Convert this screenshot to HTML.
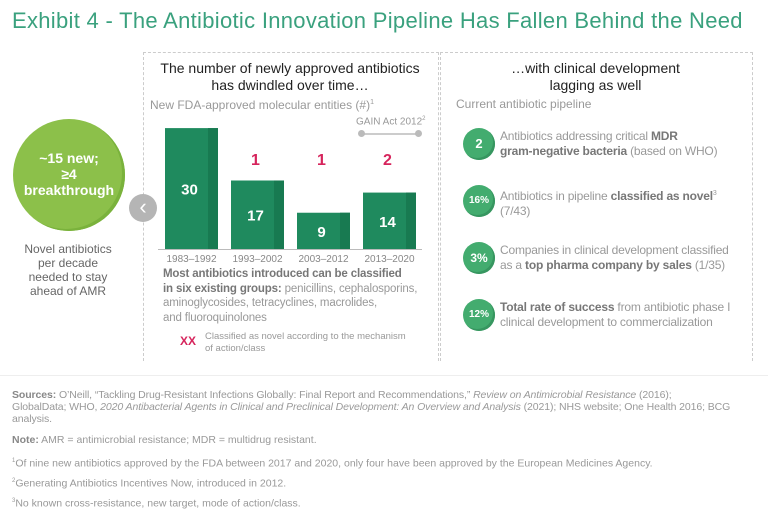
<!DOCTYPE html>
<html><head><meta charset="utf-8"><style>
body{margin:0;width:768px;height:518px;background:#fff;font-family:"Liberation Sans",sans-serif;position:relative;overflow:hidden}
.a{position:absolute}
.c{position:absolute;border-radius:50%;background:#43ac6f;color:#fff;font-weight:bold;text-align:center;box-shadow:-2px -2px 0 #379660 inset}
.item{position:absolute;left:500px;font-size:12px;color:#999;line-height:15px;width:236px;letter-spacing:-0.2px}
.item b{color:#777}
.fn{position:absolute;left:12px;font-size:10.5px;color:#999;line-height:12px;width:750px;white-space:nowrap}
.fn b{color:#888}
</style></head><body>
<div class="a" style="left:12px;top:8px;font-size:22px;color:#3aa17e;white-space:nowrap;letter-spacing:0.3px">Exhibit 4 - The Antibiotic Innovation Pipeline Has Fallen Behind the Need</div>
<div class="a" style="left:143px;top:52px;width:294px;height:308px;border:1px dashed #ccc;border-bottom:none"></div>
<div class="a" style="left:440px;top:52px;width:311px;height:308px;border:1px dashed #ccc;border-bottom:none"></div>
<div class="a" style="left:143px;width:294px;top:60px;text-align:center;font-size:14px;color:#222;line-height:17px">The number of newly approved antibiotics<br>has dwindled over time…</div>
<div class="a" style="left:150px;top:98px;font-size:12px;color:#999">New FDA-approved molecular entities (#)<sup style="font-size:7px">1</sup></div>
<div class="a" style="left:356px;top:116px;font-size:10px;color:#999">GAIN Act 2012<sup style="font-size:6px">2</sup></div>
<div class="a" style="left:361px;top:133px;width:58px;height:2px;background:#ccc"></div>
<div class="a" style="left:358px;top:130px;width:7px;height:7px;border-radius:50%;background:#bbb"></div>
<div class="a" style="left:415px;top:130px;width:7px;height:7px;border-radius:50%;background:#bbb"></div>
<svg class="a" style="left:0;top:0" width="768" height="518" id="chart"></svg>
<script>
const categories=["1983–1992","1993–2002","2003–2012","2013–2020"];
const approvals=[30,17,9,14];
const novel=[null,1,1,2];
const svg=document.getElementById('chart');
const NS='http://www.w3.org/2000/svg';
const baseY=249,scale=4.03,x0=165,step=66,bw=53;
const xS=i=>x0+i*step, yS=v=>baseY-v*scale;
function mk(t,a){const e=document.createElementNS(NS,t);for(const k in a)e.setAttribute(k,a[k]);svg.appendChild(e);return e;}
categories.forEach((c,i)=>{
 const r=mk('rect',{x:xS(i),y:yS(approvals[i]),width:bw,height:approvals[i]*scale,fill:'#1f8a5e'});
 
 
 const s=mk('rect',{x:xS(i)+bw-10,y:yS(approvals[i]),width:10,height:approvals[i]*scale,fill:'#187a51'});
 
 
 const v=mk('text',{x:xS(i)+bw/2-2,y:(yS(approvals[i])+baseY)/2+6,'text-anchor':'middle','font-size':'15','font-weight':'bold',fill:'#fff','font-family':'Liberation Sans'});
 v.textContent=approvals[i];
 
 
 const l=mk('text',{x:xS(i)+bw/2,y:262,'text-anchor':'middle','font-size':'10',fill:'#888','font-family':'Liberation Sans'});
 l.textContent=c;
 
 
 if(novel[i]!=null){
  const n=mk('text',{x:xS(i)+bw/2-2,y:165,'text-anchor':'middle','font-size':'16','font-weight':'bold',fill:'#d6245c','font-family':'Liberation Sans'});
  n.textContent=novel[i];
  
  
 }
});
const ax=mk('line',{x1:158,x2:422,y1:baseY+0.5,y2:baseY+0.5,stroke:'#bbb'});


</script>
<div class="a" style="left:163px;top:267px;font-size:11.5px;color:#999;line-height:14.5px;white-space:nowrap;letter-spacing:-0.15px"><b style="color:#777">Most antibiotics introduced can be classified<br>in six existing groups:</b> penicillins, cephalosporins,<br>aminoglycosides, tetracyclines, macrolides,<br>and fluoroquinolones</div>
<div class="a" style="left:180px;top:334px;font-size:12px;font-weight:bold;color:#d6245c">XX</div>
<div class="a" style="left:205px;top:331px;font-size:9.5px;color:#999;line-height:12px">Classified as novel according to the mechanism<br>of action/class</div>
<div class="a" style="left:13px;top:119px;width:112px;height:112px;border-radius:50%;background:#8cc04a;box-shadow:-3px -2px 0 #7ab23c inset"></div>
<div class="a" style="left:13px;top:150px;width:112px;text-align:center;color:#fff;font-weight:bold;font-size:14px;line-height:16px">~15 new;<br>≥4<br>breakthrough</div>
<div class="a" style="left:18px;top:242px;width:100px;text-align:center;color:#666;font-size:12px;line-height:14px">Novel antibiotics per decade needed to stay ahead of AMR</div>
<div class="a" style="left:129px;top:194px;width:28px;height:28px;border-radius:50%;background:#b5b5b5;color:#fff;font-size:22px;line-height:26px;text-align:center">‹</div>
<div class="a" style="left:440px;width:311px;top:60px;text-align:center;font-size:14px;color:#222;line-height:17px">…with clinical development<br>lagging as well</div>
<div class="a" style="left:456px;top:97px;font-size:12px;color:#999">Current antibiotic pipeline</div>
<div class="c" style="left:463px;top:128px;width:32px;height:32px;line-height:32px;font-size:13px">2</div>
<div class="item" style="top:129px">Antibiotics addressing critical <b>MDR</b><br><b>gram-negative bacteria</b> (based on WHO)</div>
<div class="c" style="left:463px;top:185px;width:32px;height:32px;line-height:32px;font-size:10px">16%</div>
<div class="item" style="top:186px">Antibiotics in pipeline <b>classified as novel</b><sup style="font-size:7px">3</sup><br>(7/43)</div>
<div class="c" style="left:463px;top:242px;width:32px;height:32px;line-height:32px;font-size:12px">3%</div>
<div class="item" style="top:243px">Companies in clinical development classified as a <b>top pharma company by sales</b> (1/35)</div>
<div class="c" style="left:463px;top:299px;width:32px;height:32px;line-height:32px;font-size:10px">12%</div>
<div class="item" style="top:300px"><b>Total rate of success</b> from antibiotic phase I clinical development to commercialization</div>
<div class="a" style="left:0;top:375px;width:768px;height:1px;background:#eee"></div>
<div class="fn" style="top:389px;letter-spacing:-0.1px"><b>Sources:</b> O’Neill, “Tackling Drug-Resistant Infections Globally: Final Report and Recommendations,” <i>Review on Antimicrobial Resistance</i> (2016);<br>GlobalData; WHO, <i>2020 Antibacterial Agents in Clinical and Preclinical Development: An Overview and Analysis</i> (2021); NHS website; One Health 2016; BCG<br>analysis.</div>
<div class="fn" style="top:434px"><b>Note:</b> AMR = antimicrobial resistance; MDR = multidrug resistant.</div>
<div class="fn" style="top:455px"><sup style="font-size:6px">1</sup>Of nine new antibiotics approved by the FDA between 2017 and 2020, only four have been approved by the European Medicines Agency.</div>
<div class="fn" style="top:475px"><sup style="font-size:6px">2</sup>Generating Antibiotics Incentives Now, introduced in 2012.</div>
<div class="fn" style="top:495px"><sup style="font-size:6px">3</sup>No known cross-resistance, new target, mode of action/class.</div>
</body></html>
